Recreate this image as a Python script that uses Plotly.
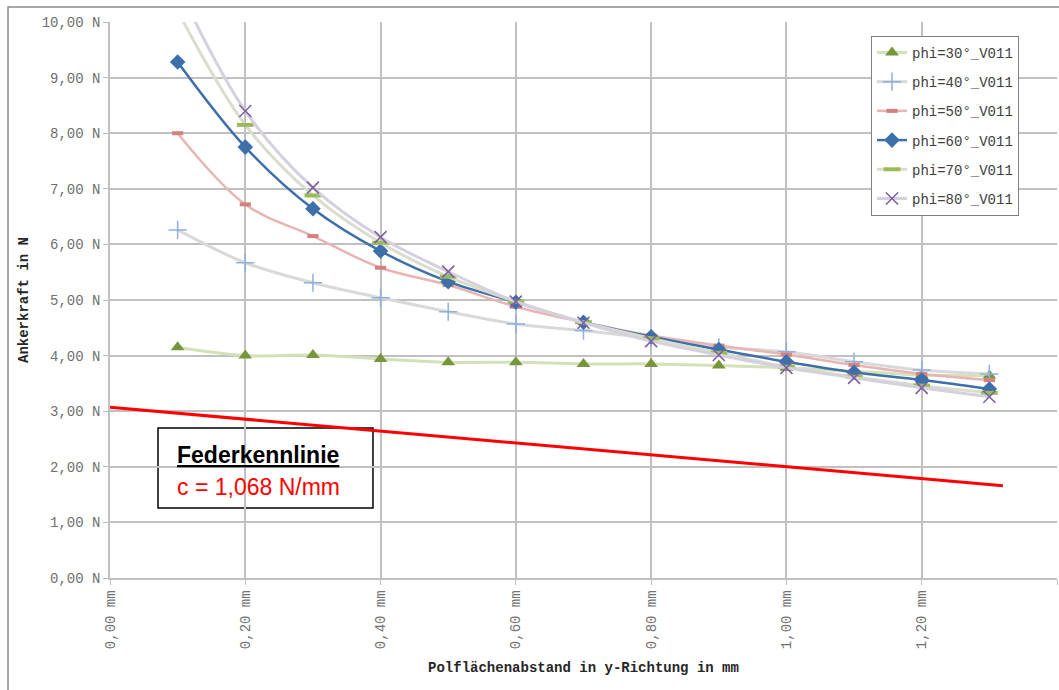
import plotly.graph_objects as go

# ---------------- data ----------------
x_mm = [0.1, 0.2, 0.3, 0.4, 0.5, 0.6, 0.7, 0.8, 0.9, 1.0, 1.1, 1.2, 1.3]

phi30 = [4.15, 4.00, 4.01, 3.94, 3.88, 3.88, 3.85, 3.85, 3.82, 3.78, 3.72, 3.65, 3.64]
phi40 = [6.26, 5.67, 5.31, 5.04, 4.79, 4.57, 4.45, 4.31, 4.15, 4.07, 3.89, 3.74, 3.67]
phi50 = [8.00, 6.72, 6.15, 5.58, 5.27, 4.88, 4.60, 4.36, 4.18, 4.02, 3.83, 3.67, 3.56]
phi60 = [9.28, 7.75, 6.64, 5.88, 5.33, 4.96, 4.60, 4.34, 4.11, 3.89, 3.70, 3.56, 3.40]
phi70 = [10.20, 8.15, 6.88, 6.03, 5.42, 4.97, 4.60, 4.31, 4.05, 3.80, 3.62, 3.46, 3.33]
phi80 = [10.65, 8.40, 7.02, 6.13, 5.51, 4.97, 4.59, 4.26, 4.01, 3.78, 3.60, 3.42, 3.26]

series_names = ["phi=30°_V011", "phi=40°_V011", "phi=50°_V011",
                "phi=60°_V011", "phi=70°_V011", "phi=80°_V011"]

spring_x = [0.0, 1.32]
spring_force = [3.07, 1.66]

x_tickvals = [0.0, 0.2, 0.4, 0.6, 0.8, 1.0, 1.2, 1.4]
x_ticktext = ["0,00 mm", "0,20 mm", "0,40 mm", "0,60 mm", "0,80 mm", "1,00 mm", "1,20 mm", "1,40 mm"]
y_tickvals = [0, 1, 2, 3, 4, 5, 6, 7, 8, 9, 10]
y_ticktext = ["0,00 N", "1,00 N", "2,00 N", "3,00 N", "4,00 N", "5,00 N",
              "6,00 N", "7,00 N", "8,00 N", "9,00 N", "10,00 N"]

# ---------------- styles ----------------
styles = [
    dict(line=dict(color="#d3e2b6", width=3),
         marker=dict(symbol="triangle-up", size=12, color="#77963c")),
    dict(line=dict(color="#d9d9d9", width=3),
         marker=dict(symbol="cross-thin", size=13, color="#8eb0df",
                     line=dict(color="#8eb0df", width=1.5))),
    dict(line=dict(color="#e8b5b3", width=2.5),
         marker=dict(symbol="line-ew", size=8, color="#d4827f",
                     line=dict(color="#d4827f", width=4))),
    dict(line=dict(color="#3d6fab", width=2.5),
         marker=dict(symbol="diamond", size=12, color="#3d6fab")),
    dict(line=dict(color="#d8ddcc", width=3),
         marker=dict(symbol="line-ew", size=12, color="#9bbb59",
                     line=dict(color="#9bbb59", width=4))),
    dict(line=dict(color="#d6d0de", width=3),
         marker=dict(symbol="x-thin", size=12, color="#7d61a0",
                     line=dict(color="#7d61a0", width=1.6))),
]

series = [phi30, phi40, phi50, phi60, phi70, phi80]

fig = go.Figure()

# spring characteristic line
fig.add_trace(go.Scatter(x=spring_x, y=spring_force, mode="lines",
                         line=dict(color="#ff0000", width=3),
                         showlegend=False, hoverinfo="skip"))

for i, (name, ys, st) in enumerate(zip(series_names, series, styles)):
    fig.add_trace(go.Scatter(
        x=x_mm, y=ys, name=name, mode="lines+markers",
        line=dict(shape="spline", smoothing=1.0, **st["line"]),
        marker=st["marker"], legendgroup=f"g{i}",
        cliponaxis=True,
    ))

mono = "Liberation Mono, Courier New, monospace"
grid_col = "#c0c0c0"

fig.update_layout(
    width=1059, height=690,
    margin=dict(l=110, r=2, t=22, b=112),
    paper_bgcolor="white", plot_bgcolor="white",
    font=dict(family=mono, size=14, color="#595959"),
    showlegend=True,
    legend=dict(x=0.8036, y=0.975, xanchor="left", yanchor="top",
                bgcolor="white", bordercolor="#808080", borderwidth=1,
                font=dict(family=mono, size=14, color="#404040"),
                tracegroupgap=8, traceorder="grouped",
                itemwidth=30),
    xaxis=dict(range=[0, 1.4], tickvals=x_tickvals, ticktext=x_ticktext,
               tickangle=-90, showgrid=True, gridcolor=grid_col, gridwidth=1.5,
               showline=True, linecolor=grid_col, linewidth=1.5,
               ticks="outside", ticklen=5, tickcolor=grid_col,
               tickfont=dict(family=mono, size=14, color="#707070"),
               zeroline=False,
               title=dict(text="<b>Polflächenabstand in y-Richtung in mm</b>",
                          font=dict(family=mono, size=14, color="#262626"),
                          standoff=14)),
    yaxis=dict(range=[0, 10], tickvals=y_tickvals, ticktext=y_ticktext,
               showgrid=True, gridcolor=grid_col, gridwidth=1.5,
               showline=True, linecolor=grid_col, linewidth=1.5,
               ticks="outside", ticklen=5, tickcolor=grid_col,
               tickfont=dict(family=mono, size=14, color="#707070"),
               zeroline=False,
               title=dict(text="<b>Ankerkraft in N</b>",
                          font=dict(family=mono, size=14, color="#262626"),
                          standoff=10)),
)

# outer chart frame
fig.add_shape(type="rect", xref="paper", yref="paper",
              x0=-0.1077, x1=1.02, y0=-0.25, y1=1.027,
              line=dict(color="#8a8a8a", width=1.5), layer="above")

# annotation box (white fill covers grid, sits below the traces)
fig.add_shape(type="rect", xref="paper", yref="paper",
              x0=0.0507, x1=0.2777, y0=0.1259, y1=0.2698,
              fillcolor="white", line=dict(color="#000000", width=1.5),
              layer="between")

sans = "Liberation Sans, Arial, sans-serif"
fig.add_annotation(
    xref="paper", yref="paper", x=0.0686, y=0.2212,
    xanchor="left", yanchor="middle", align="left",
    text="<b><u>Federkennlinie</u></b>",
    font=dict(family=sans, size=23, color="#000000"),
    showarrow=False,
)
fig.add_annotation(
    xref="paper", yref="paper", x=0.0686, y=0.1637,
    xanchor="left", yanchor="middle", align="left",
    text="c = 1,068 N/mm",
    font=dict(family=sans, size=23, color="#ff0000"),
    showarrow=False,
)

fig.write_html("out.html")
